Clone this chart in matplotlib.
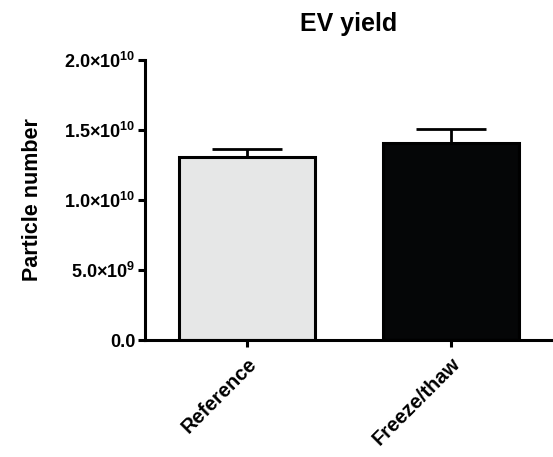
import matplotlib
matplotlib.use("Agg")
import matplotlib.pyplot as plt

plt.rcParams['font.family'] = ['Liberation Sans', 'DejaVu Sans']
plt.rcParams['font.weight'] = 'bold'
plt.rcParams['mathtext.fontset'] = 'custom'
plt.rcParams['mathtext.rm'] = 'Liberation Sans:bold'
plt.rcParams['mathtext.bf'] = 'Liberation Sans:bold'

# data
groups = ['Reference', 'Freeze/thaw']
means = [1.31e10, 1.41e10]
errs = [0.055e10, 0.097e10]
bar_colors = ['#e6e7e7', '#050607']
y_ticks = [0, 5e9, 1e10, 1.5e10, 2e10]
y_tick_labels = ['0.0', r'5.0×10$^{9}$', r'1.0×10$^{10}$', r'1.5×10$^{10}$', r'2.0×10$^{10}$']

fig = plt.figure(figsize=(5.53, 4.57), dpi=100)
ax = fig.add_axes([0.262, 0.256, 0.738, 0.613])

x = list(range(len(groups)))
ax.bar(x, means, width=0.67, color=bar_colors, edgecolor='black', linewidth=2.2, zorder=2)
ax.errorbar(x, means, yerr=[[0, 0], errs], fmt='none', ecolor='black',
            elinewidth=2, capsize=25, capthick=2, zorder=1)

ax.set_xlim(-0.5, 1.5)
ax.set_ylim(0, 2e10)
ax.set_yticks(y_ticks)
ax.set_yticklabels(y_tick_labels, fontsize=13, fontweight='bold')
ax.set_xticks(x)
ax.set_xticklabels(groups, rotation=45, ha='right', rotation_mode='anchor',
                   fontsize=14.5, fontweight='bold')

for s in ['top', 'right']:
    ax.spines[s].set_visible(False)
for s in ['left', 'bottom']:
    ax.spines[s].set_linewidth(2.2)
ax.tick_params(width=2.2, length=5)
ax.tick_params(axis='y', pad=2)
ax.tick_params(axis='x', pad=5)

ax.set_ylabel('Particle number', fontsize=15.5, fontweight='bold')
ax.yaxis.set_label_coords(-0.25, 0.5)
ax.set_title('EV yield', fontsize=18, fontweight='bold', pad=21)

fig.savefig('out.png', dpi=100)
